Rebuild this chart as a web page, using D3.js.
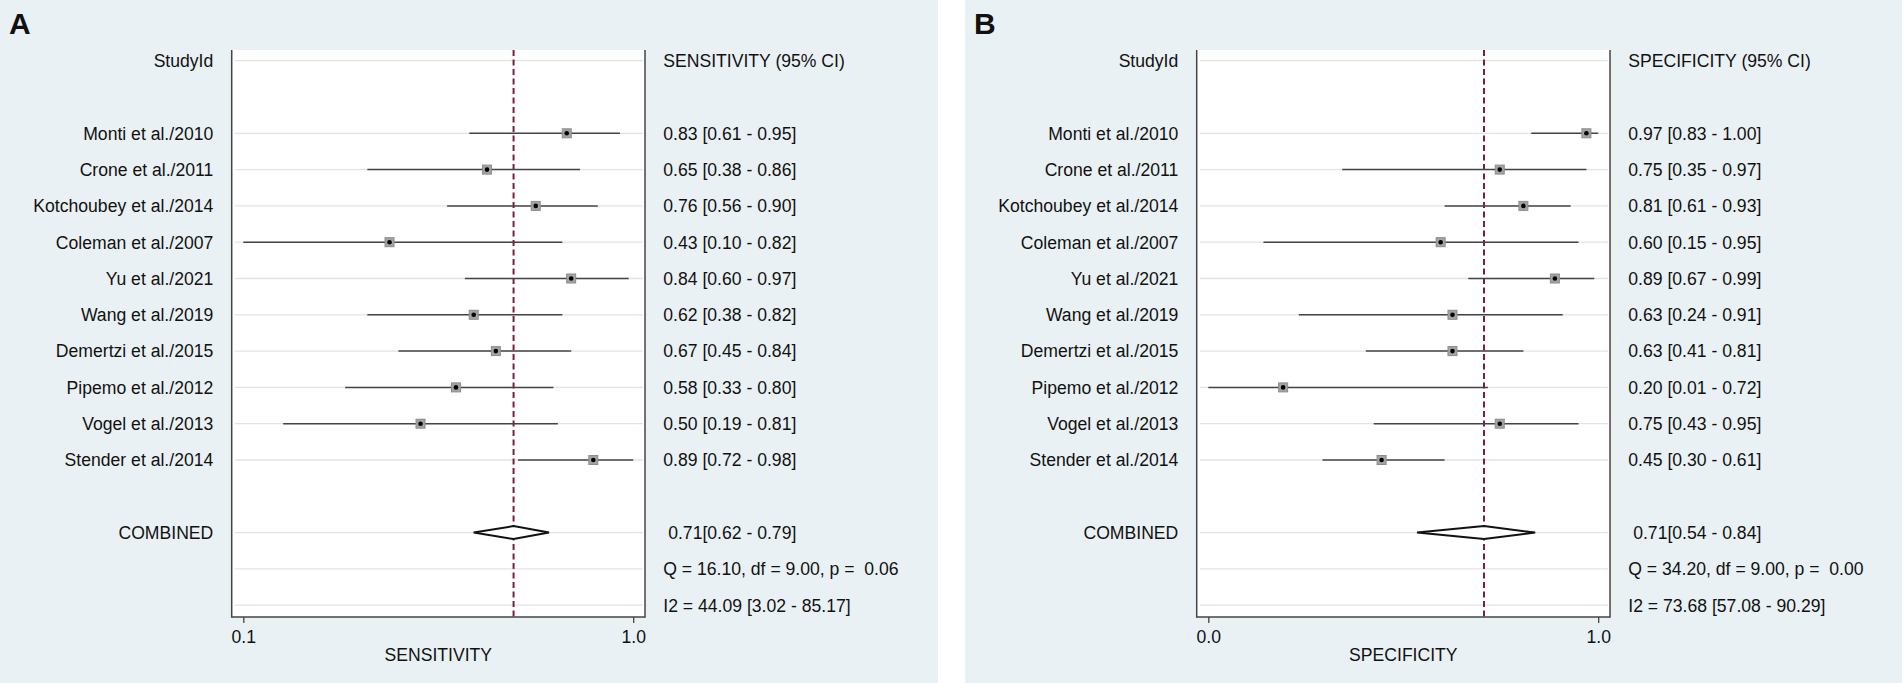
<!DOCTYPE html>
<html>
<head>
<meta charset="utf-8">
<script src="https://cdn.jsdelivr.net/npm/d3@7"></script>
<style>
    body { margin: 0; background: #fff; }
    svg text { font-family: "Liberation Sans", Arial, sans-serif; fill: #111; white-space: pre; }
</style>
</head>
<body>
<div id="forest"></div>
<script>
// study names (rows, top to bottom)
var studies = ["Monti et al./2010", "Crone et al./2011", "Kotchoubey et al./2014", "Coleman et al./2007",
    "Yu et al./2021", "Wang et al./2019", "Demertzi et al./2015", "Pipemo et al./2012",
    "Vogel et al./2013", "Stender et al./2014"];

// sensitivity estimates and 95% CI
var sensEst = [0.83, 0.65, 0.76, 0.43, 0.84, 0.62, 0.67, 0.58, 0.50, 0.89];
var sensLo = [0.61, 0.38, 0.56, 0.10, 0.60, 0.38, 0.45, 0.33, 0.19, 0.72];
var sensHi = [0.95, 0.86, 0.90, 0.82, 0.97, 0.82, 0.84, 0.80, 0.81, 0.98];
var sensPooled = [0.71, 0.62, 0.79];
var sensStats = ["Q = 16.10, df = 9.00, p =  0.06", "I2 = 44.09 [3.02 - 85.17]"];

// specificity estimates and 95% CI
var specEst = [0.97, 0.75, 0.81, 0.60, 0.89, 0.63, 0.63, 0.20, 0.75, 0.45];
var specLo = [0.83, 0.35, 0.61, 0.15, 0.67, 0.24, 0.41, 0.01, 0.43, 0.30];
var specHi = [1.00, 0.97, 0.93, 0.95, 0.99, 0.91, 0.81, 0.72, 0.95, 0.61];
var specPooled = [0.71, 0.54, 0.84];
var specStats = ["Q = 34.20, df = 9.00, p =  0.00", "I2 = 73.68 [57.08 - 90.29]"];

var svgWidth = 1902,
    svgHeight = 683,
    panelWidth = 938,
    plotTop = 50,
    plotBottom = 617,
    plotLeft = 231.7,
    plotRight = 645,
    fontSize = 17.6;

var svg = d3.select("#forest")
    .append("svg")
    .attr("width", svgWidth)
    .attr("height", svgHeight);

// row positions: 0 header, 2..11 studies, 13 combined, 14-15 stats
var y = d3.scaleLinear().domain([0, 15]).range([60.7, 605.2]);
var f2 = d3.format(".2f");

function drawPanel(ox, letter, name, est, lo, hi, pooled, stats) {
    var g = svg.append("g").attr("transform", `translate(${ox},0)`);

    g.append("rect")
        .attr("width", panelWidth).attr("height", svgHeight)
        .attr("fill", "#eaf1f4");

    g.append("rect")
        .attr("x", plotLeft).attr("y", plotTop)
        .attr("width", plotRight - plotLeft).attr("height", plotBottom - plotTop)
        .attr("fill", "#fff");

    // x axis ticks sit on the smallest and largest CI bound
    var xMin = d3.min(lo), xMax = d3.max(hi);
    var x = d3.scaleLinear().domain([xMin, xMax]).range([plotLeft + 11.6, plotRight - 11.8]);

    var rows = studies.map(function (s, i) {
        return { name: s, est: est[i], lo: lo[i], hi: hi[i], row: i + 2 };
    });

    // gridlines
    var gridRows = [0].concat(rows.map(d => d.row), [13, 14, 15]);
    g.selectAll(".grid")
        .data(gridRows)
        .enter().append("line")
        .attr("x1", plotLeft + 3).attr("x2", plotRight - 2)
        .attr("y1", d => y(d)).attr("y2", d => y(d))
        .attr("stroke", "#e3e3e3").attr("stroke-width", 1.3);

    // reference line at pooled estimate
    g.append("line")
        .attr("x1", x(pooled[0])).attr("x2", x(pooled[0]))
        .attr("y1", plotTop).attr("y2", plotBottom)
        .attr("stroke", "#7a1f3c").attr("stroke-width", 2)
        .attr("stroke-dasharray", "6,3.5");

    // CI lines
    g.selectAll(".ci")
        .data(rows)
        .enter().append("line")
        .attr("x1", d => x(d.lo)).attr("x2", d => x(d.hi))
        .attr("y1", d => y(d.row)).attr("y2", d => y(d.row))
        .attr("stroke", "#444").attr("stroke-width", 1.5);

    // point estimates
    g.selectAll(".box")
        .data(rows)
        .enter().append("rect")
        .attr("x", d => x(d.est) - 4.5).attr("y", d => y(d.row) - 4.5)
        .attr("width", 9).attr("height", 9)
        .attr("fill", "#a3a3a3").attr("stroke", "#8c8c8c").attr("stroke-width", 1);

    g.selectAll(".dot")
        .data(rows)
        .enter().append("circle")
        .attr("cx", d => x(d.est)).attr("cy", d => y(d.row))
        .attr("r", 2.3).attr("fill", "#000");

    // pooled diamond
    var yc = y(13);
    g.append("path")
        .attr("d", `M${x(pooled[1])},${yc}L${x(pooled[0])},${yc - 6.5}L${x(pooled[2])},${yc}L${x(pooled[0])},${yc + 6.5}Z`)
        .attr("fill", "#fff").attr("stroke", "#111").attr("stroke-width", 2);

    // plot borders
    g.append("line").attr("x1", plotLeft).attr("x2", plotLeft).attr("y1", plotTop).attr("y2", plotBottom + 0.75)
        .attr("stroke", "#444").attr("stroke-width", 1.5);
    g.append("line").attr("x1", plotRight).attr("x2", plotRight).attr("y1", plotTop).attr("y2", plotBottom + 0.75)
        .attr("stroke", "#444").attr("stroke-width", 1.5);
    g.append("line").attr("x1", plotLeft).attr("x2", plotRight).attr("y1", plotBottom).attr("y2", plotBottom)
        .attr("stroke", "#444").attr("stroke-width", 1.5);

    // x axis
    var xAxis = d3.axisBottom(x)
        .tickValues([xMin, xMax])
        .tickFormat(d3.format(".1f"))
        .tickSize(6)
        .tickSizeOuter(0)
        .tickPadding(8);

    var ax = g.append("g")
        .attr("transform", `translate(0,${plotBottom})`)
        .call(xAxis);
    ax.select(".domain").remove();
    ax.selectAll("line").attr("stroke", "#444").attr("stroke-width", 1.3);
    ax.selectAll("text")
        .style("font-size", fontSize + "px")
        .attr("fill", "#111");

    g.append("text")
        .attr("x", (plotLeft + plotRight) / 2).attr("y", 660.5)
        .attr("text-anchor", "middle")
        .style("font-size", fontSize + "px")
        .text(name);

    // left labels
    var labels = [{ t: "StudyId", row: 0 }].concat(rows.map(d => ({ t: d.name, row: d.row })), [{ t: "COMBINED", row: 13 }]);
    g.selectAll(".lab")
        .data(labels)
        .enter().append("text")
        .attr("x", 213.3).attr("y", d => y(d.row))
        .attr("dy", "0.36em")
        .attr("text-anchor", "end")
        .style("font-size", fontSize + "px")
        .text(d => d.t);

    // right column
    var right = [{ t: name + " (95% CI)", row: 0 }]
        .concat(rows.map(d => ({ t: `${f2(d.est)} [${f2(d.lo)} - ${f2(d.hi)}]`, row: d.row })))
        .concat([{ t: ` ${f2(pooled[0])}[${f2(pooled[1])} - ${f2(pooled[2])}]`, row: 13 },
            { t: stats[0], row: 14 }, { t: stats[1], row: 15 }]);
    g.selectAll(".est")
        .data(right)
        .enter().append("text")
        .attr("x", 663.3).attr("y", d => y(d.row))
        .attr("dy", "0.36em")
        .style("font-size", fontSize + "px")
        .text(d => d.t);

    // panel letter
    g.append("text")
        .attr("x", 9).attr("y", 34)
        .style("font-size", "30px").style("font-weight", "bold")
        .text(letter);
}

drawPanel(0, "A", "SENSITIVITY", sensEst, sensLo, sensHi, sensPooled, sensStats);
drawPanel(965, "B", "SPECIFICITY", specEst, specLo, specHi, specPooled, specStats);
</script>
</body>
</html>
